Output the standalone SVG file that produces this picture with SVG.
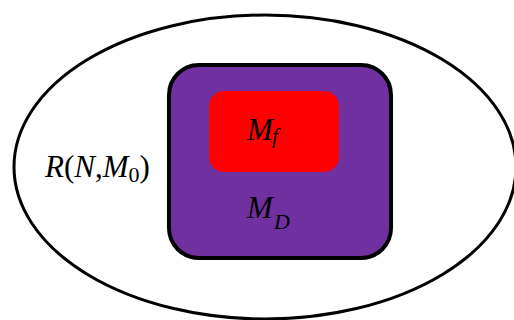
<svg xmlns="http://www.w3.org/2000/svg" width="514" height="320" viewBox="0 0 514 320">
<style>
.t{font-family:"Liberation Serif","Times New Roman",serif;font-style:italic;fill:#000}
.m{font-size:31px}
.s{font-size:22px}
</style>
<rect width="514" height="320" fill="#fff"/>
<g id="reach">
<ellipse cx="265" cy="167" rx="251" ry="152" fill="#fff" stroke="#000" stroke-width="3"/>
<text class="t m" x="45" y="177">R<tspan font-style="normal">(</tspan>N<tspan font-style="normal">,</tspan>M<tspan class="s" font-style="normal" dy="5">0</tspan><tspan font-style="normal" dy="-5">)</tspan></text>
</g>
<g id="MD">
<rect x="169" y="65" width="222" height="193" rx="30" ry="30" fill="#7030A0" stroke="#000" stroke-width="4"/>
<text class="t m" x="247" y="218">M<tspan class="s" x="274" y="229">D</tspan></text>
</g>
<g id="Mf">
<rect x="209" y="91" width="130" height="81" rx="15" ry="15" fill="#FF0000"/>
<text class="t m" x="247" y="140">M<tspan class="s" x="272" y="143">f</tspan></text>
</g>
<g id="connectors"/>
</svg>
